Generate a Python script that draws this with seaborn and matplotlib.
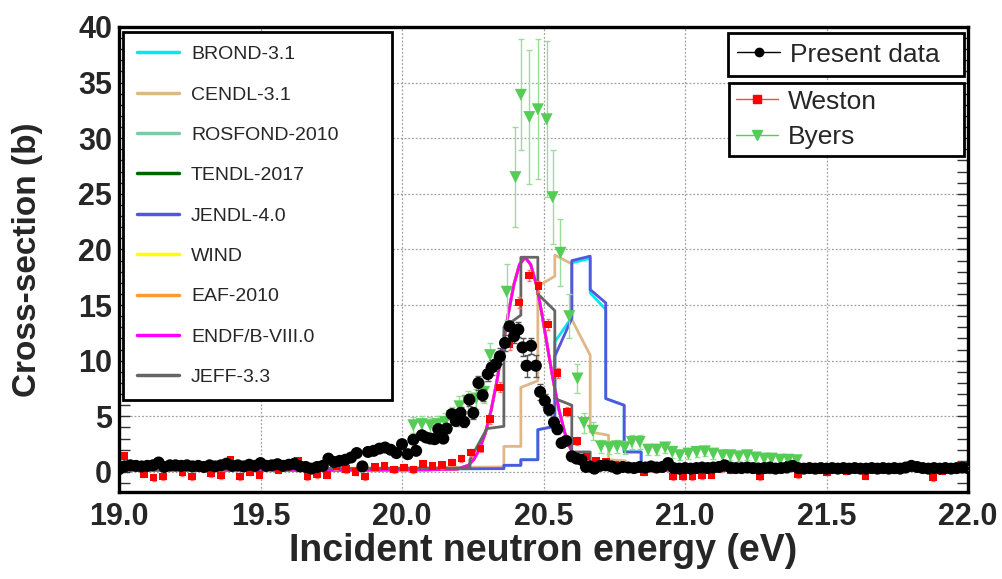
import numpy as np
import matplotlib
matplotlib.use("Agg")
import matplotlib.pyplot as plt
import seaborn as sns
from matplotlib.lines import Line2D
from matplotlib.ticker import MultipleLocator

# ---------------- evaluated libraries ----------------
smooth_E = [19.00, 19.80, 20.10, 20.195, 20.235, 20.255, 20.275, 20.295, 20.315, 20.335,
            20.355, 20.375, 20.395, 20.415, 20.435, 20.455, 20.475, 20.495, 20.515, 20.535,
            20.555, 20.575, 20.595, 20.615, 20.635, 20.675, 20.80, 22.00]
smooth_y = [0.15, 0.15, 0.2, 0.25, 0.61, 1.17, 2.11, 3.54, 5.55, 8.13,
            11.09, 14.13, 16.81, 18.64, 19.3, 18.64, 16.81, 14.13, 11.09, 8.13,
            5.55, 3.54, 2.11, 1.17, 0.61, 0.25, 0.18, 0.15]

jeff_E = [19.00, 20.24, 20.24, 20.30, 20.36, 20.36, 20.42, 20.42, 20.48, 20.48,
          20.54, 20.54, 20.60, 20.60, 20.665, 20.665, 22.00]
jeff_y = [0.2, 0.35, 1.1, 3.9, 4.1, 13.0, 14.1, 19.3, 19.3, 16.0,
          14.5, 6.6, 6.0, 1.8, 1.8, 0.3, 0.2]

cendl_E = [19.00, 20.36, 20.36, 20.42, 20.42, 20.48, 20.48, 20.54, 20.54, 20.60,
           20.60, 20.665, 20.665, 20.73, 20.73, 20.79, 20.79, 22.00]
cendl_y = [0.2, 0.45, 2.3, 2.3, 7.6, 8.2, 16.7, 17.6, 19.5, 18.7,
           13.7, 10.5, 3.6, 3.3, 1.1, 1.0, 0.3, 0.2]

jendl_E = [19.00, 20.36, 20.36, 20.42, 20.42, 20.48, 20.48, 20.54, 20.54, 20.60,
           20.60, 20.665, 20.665, 20.72, 20.72, 20.785, 20.785, 20.845, 20.845, 20.95, 22.00]
jendl_y = [0.2, 0.3, 0.6, 0.6, 1.1, 1.1, 3.8, 4.1, 10.4, 13.8,
           19.0, 19.4, 16.4, 15.2, 6.6, 6.0, 1.8, 1.8, 0.6, 0.3, 0.2]
brond_y = [0.2, 0.3, 0.6, 0.6, 1.1, 1.1, 3.8, 4.1, 11.7, 13.9,
           18.8, 19.2, 16.1, 14.6, 6.6, 6.0, 1.8, 1.8, 0.6, 0.3, 0.2]

lib_names = ["BROND-3.1", "CENDL-3.1", "ROSFOND-2010", "TENDL-2017", "JENDL-4.0",
             "WIND", "EAF-2010", "ENDF/B-VIII.0", "JEFF-3.3"]
lib_colors = ["#00e8f0", "#deb887", "#7fc9a6", "#006400", "#5555dd",
              "#ffff00", "#ff9933", "#ff00ff", "#666666"]
lib_E = [jendl_E, cendl_E, smooth_E, smooth_E, jendl_E, smooth_E, smooth_E, smooth_E, jeff_E]
lib_y = [brond_y, cendl_y, smooth_y, smooth_y, jendl_y, smooth_y, smooth_y, smooth_y, jeff_y]

# ---------------- present data ----------------
pres_left_E = np.round(np.arange(19.00, 19.7201, 0.02), 3)
pres_left_y = [0.25, 0.5, 0.6, 0.55, 0.5, 0.55, 0.6, 0.85, 0.45, 0.6,
               0.6, 0.55, 0.6, 0.5, 0.55, 0.45, 0.6, 0.5, 0.6, 0.75,
               0.55, 0.6, 0.5, 0.65, 0.55, 0.8, 0.55, 0.6, 0.7, 0.55,
               0.65, 0.75, 0.5, 0.45, 0.3, 0.45, 0.55]
pres_mid_E = [19.74, 19.76, 19.78, 19.80, 19.82, 19.84, 19.86, 19.88, 19.90, 19.92,
              19.94, 19.96, 19.98, 20.00, 20.02, 20.04, 20.05, 20.07, 20.085, 20.10,
              20.115, 20.128, 20.146, 20.158, 20.176, 20.19, 20.207, 20.22, 20.238, 20.252,
              20.27, 20.285, 20.303, 20.317, 20.332, 20.346, 20.364, 20.38, 20.396, 20.411,
              20.426, 20.44, 20.456, 20.473, 20.488, 20.505, 20.52, 20.537, 20.549, 20.564,
              20.58, 20.60, 20.617, 20.634, 20.65, 20.665]
pres_mid_y = [1.2, 0.9, 1.0, 1.1, 1.3, 1.7, 0.5, 1.8, 1.9, 2.1,
              2.2, 2.0, 1.7, 2.5, 1.6, 2.9, 1.9, 3.3, 3.1, 3.0,
              2.95, 3.85, 3.0, 3.9, 5.2, 4.6, 5.3, 4.5, 6.5, 5.3,
              8.0, 6.9, 8.8, 9.4, 9.7, 10.4, 11.6, 13.1, 12.2, 12.8,
              11.2, 9.55, 11.35, 9.55, 7.2, 6.4, 5.6, 4.45, 3.85, 2.6,
              2.8, 1.4, 1.2, 1.1, 0.45, 0.5]
pres_mid_err = [0.2, 0.2, 0.2, 0.2, 0.2, 0.2, 0.2, 0.2, 0.2, 0.25,
                0.25, 0.25, 0.25, 0.3, 0.3, 0.3, 0.3, 0.35, 0.35, 0.35,
                0.35, 0.4, 0.35, 0.4, 0.45, 0.45, 0.5, 0.45, 0.55, 0.5,
                0.6, 0.55, 0.6, 0.65, 0.65, 0.7, 0.7, 0.4, 0.6, 0.7,
                0.8, 1.0, 0.7, 1.0, 0.7, 0.6, 0.5, 0.45, 0.4, 0.35,
                0.35, 0.3, 0.3, 0.3, 0.25, 0.25]
pres_right_E = np.round(np.arange(20.68, 22.0001, 0.02), 3)
pres_right_y = [0.3, 0.55, 0.6, 0.5, 0.3, 0.45, 0.4, 0.35, 0.45, 0.4,
                0.5, 0.4, 0.45, 0.8, 0.35, 0.3, 0.35, 0.3, 0.35, 0.4,
                0.35, 0.4, 0.45, 0.6, 0.4, 0.35, 0.35, 0.4, 0.35, 0.3,
                0.35, 0.4, 0.3, 0.35, 0.4, 0.55, 0.35, 0.3, 0.35, 0.3,
                0.35, 0.3, 0.35, 0.3, 0.35, 0.3, 0.35, 0.3, 0.3, 0.35,
                0.3, 0.35, 0.3, 0.35, 0.3, 0.4, 0.55, 0.45, 0.35, 0.3,
                0.35, 0.3, 0.35, 0.3, 0.35, 0.4, 0.35]

# ---------------- Weston ----------------
weston_E = np.round(19.02 + 0.034 * np.arange(88), 3)
weston_y = [1.44, 0.45, -0.18, -0.48, -0.42, 0.45, -0.06, -0.42, 0.35, -0.15,
            -0.33, 1.08, -0.42, 0.0, -0.27, 0.4, 0.2, 0.5, 1.0, -0.42,
            -0.2, -0.27, 0.5, 0.25, 0.0, -0.42, 0.45, 0.54, 0.24, 0.4,
            0.24, 0.72, 0.54, 0.6, 0.85, 1.2, 1.75, 2.1, 4.75, 7.6,
            11.5, 15.25, 17.65, 16.7, 13.25, 8.9, 5.4, 2.8, 1.4, 1.0,
            0.9, 0.6, 0.5, 0.4, 0.0, 0.3, 0.5, -0.42, -0.42, -0.4,
            -0.3, -0.25, 0.3, 0.2, 0.4, 0.3, -0.4, 0.2, 0.4, 0.6,
            -0.2, 0.3, 0.2, 0.0, 0.4, 0.1, 0.3, -0.35, 0.3, 0.4,
            0.2, 0.3, 0.4, 0.3, -0.5, 0.1, 0.3, 0.6]
weston_err = [0.3] * 38 + [0.4, 0.45, 0.5, 0.5, 0.5, 0.5, 0.5, 0.45, 0.4, 0.35] + [0.3] * 40

# ---------------- Byers ----------------
byers_E = [20.040, 20.070, 20.100, 20.126, 20.152, 20.176, 20.203, 20.232, 20.262, 20.290,
           20.311, 20.370, 20.401, 20.420, 20.450, 20.480, 20.511, 20.532, 20.560, 20.591,
           20.620, 20.643, 20.674, 20.703, 20.733, 20.760, 20.787, 20.812, 20.840, 20.870,
           20.900, 20.930, 20.955, 20.982, 21.012, 21.041, 21.070, 21.100, 21.133, 21.160,
           21.190, 21.220, 21.250, 21.280, 21.306, 21.336, 21.365, 21.395]
byers_y = [4.2, 4.3, 4.2, 4.3, 4.5, 5.0, 5.9, 6.4, 6.6, 7.2,
           10.5, 16.2, 26.5, 33.9, 31.9, 32.6, 31.7, 24.7, 19.7, 14.0,
           8.4, 4.4, 3.7, 2.3, 2.2, 2.3, 2.2, 2.7, 2.7, 2.0,
           2.0, 2.2, 1.8, 1.5, 1.65, 1.8, 1.85, 1.65, 1.5, 1.5,
           1.4, 1.5, 1.3, 1.2, 1.2, 1.1, 1.1, 1.05]
byers_err = [0.7, 0.7, 0.7, 0.7, 0.8, 0.8, 0.9, 0.9, 0.9, 1.0,
             1.1, 2.5, 4.5, 5.0, 6.0, 6.3, 7.0, 4.2, 3.0, 2.0,
             1.3, 0.9, 0.8, 0.6, 0.6, 0.6, 0.6, 0.6, 0.6, 0.5,
             0.5, 0.5, 0.5, 0.45, 0.45, 0.45, 0.45, 0.45, 0.45, 0.4,
             0.4, 0.4, 0.4, 0.4, 0.4, 0.4, 0.4, 0.4]

x_ticks = [19.0, 19.5, 20.0, 20.5, 21.0, 21.5, 22.0]
y_ticks = [0, 5, 10, 15, 20, 25, 30, 35, 40]

# ---------------- figure ----------------
sns.set_theme(style="white")
plt.rcParams["font.family"] = ["Liberation Sans", "DejaVu Sans"]

W, H = 1003, 579
fig = plt.figure(figsize=(W / 100, H / 100), dpi=100)
L, R, T, B = 119, 968, 27, 492
ax = fig.add_axes([L / W, 1 - B / H, (R - L) / W, (B - T) / H])

for name, E, y, c in zip(lib_names, lib_E, lib_y, lib_colors):
    sns.lineplot(x=E, y=y, ax=ax, color=c, lw=2, estimator=None, sort=False,
                 legend=False, zorder=2)

# Byers
ax.errorbar(byers_E, byers_y, yerr=byers_err, fmt="none", ecolor="#99dd99",
            elinewidth=1, capsize=2, zorder=3)
sns.scatterplot(x=byers_E, y=byers_y, ax=ax, marker="v", color="#55cc55", s=75,
                edgecolor="none", zorder=4, legend=False)
# Weston
ax.errorbar(weston_E, weston_y, yerr=weston_err, fmt="none", ecolor="#ff7070",
            elinewidth=1, capsize=1.5, zorder=5)
sns.scatterplot(x=weston_E, y=weston_y, ax=ax, marker="s", color="#ff0000", s=30,
                edgecolor="none", zorder=6, legend=False)
# Present data
pres_E = list(pres_left_E) + pres_mid_E + list(pres_right_E)
pres_y = pres_left_y + pres_mid_y + pres_right_y
pres_err = [0.15] * len(pres_left_y) + pres_mid_err + [0.15] * len(pres_right_y)
ax.errorbar(pres_E, pres_y, yerr=pres_err, fmt="none", ecolor="#555555",
            elinewidth=1, capsize=2, zorder=7)
sns.scatterplot(x=pres_E, y=pres_y, ax=ax, marker="o", color="black", s=75,
                edgecolor="none", zorder=8, legend=False)

ax.set_xlim(19.0, 22.0)
ax.set_ylim(-1.8, 40)
ax.set_xticks(x_ticks)
ax.set_xticklabels([f"{v:.1f}" for v in x_ticks])
ax.set_yticks(y_ticks)
ax.yaxis.set_minor_locator(MultipleLocator(1))
ax.grid(True, which="major", color="#a0a0a0", linestyle=(0, (1.5, 1.5)), lw=0.9)
ax.set_axisbelow(True)
for s in ax.spines.values():
    s.set_linewidth(2.4)
    s.set_color("black")
ax.tick_params(axis="y", which="both", direction="in", left=True, right=True,
               width=1, color="#333333")
ax.tick_params(axis="y", which="major", length=8, pad=5)
ax.tick_params(axis="y", which="minor", length=8)
ax.tick_params(axis="x", which="major", direction="in", bottom=True, top=False,
               length=0, pad=7)
for lab in ax.get_xticklabels() + ax.get_yticklabels():
    lab.set_fontsize(22)
    lab.set_fontweight("bold")

ax.set_xlabel("Incident neutron energy (eV)", fontsize=27, fontweight="bold")
ax.set_ylabel("Cross-section (b)", fontsize=24, fontweight="bold")
ax.xaxis.set_label_coords(0.5, (B - 533) / (B - T))
ax.yaxis.set_label_coords((43 - L) / (R - L), 0.5)

# legends
lib_handles = [Line2D([], [], color=c, lw=2.5) for c in lib_colors]
fs1 = 14
leg1 = fig.legend(lib_handles, lib_names, loc="upper left",
                  bbox_to_anchor=(123 / W, 1 - 402 / H, (392 - 123) / W, (402 - 32) / H),
                  mode="expand", borderaxespad=0, fontsize=fs1, frameon=True,
                  fancybox=False, framealpha=1, edgecolor="black", borderpad=0.7,
                  labelspacing=1.17, handlelength=2.2, handletextpad=0.6)
leg1.get_frame().set_linewidth(2)

fs2 = 19
h_pres = [Line2D([], [], color="black", lw=1, marker="o", ms=6)]
leg2 = fig.legend(h_pres, ["Present data"], loc="upper left",
                  bbox_to_anchor=(728 / W, 1 - 77 / H, (964 - 728) / W, (77 - 33) / H),
                  mode="expand", borderaxespad=0, fontsize=fs2, frameon=True,
                  fancybox=False, framealpha=1, edgecolor="black", borderpad=0.36,
                  handlelength=1.6, handletextpad=0.4)
leg2.get_frame().set_linewidth(2)

h_oth = [Line2D([], [], color="#ff4444", lw=1, marker="s", ms=6, mfc="#ff0000", mec="#ff0000"),
         Line2D([], [], color="#55cc55", lw=1, marker="v", ms=7, mfc="#55cc55", mec="#55cc55")]
leg3 = fig.legend(h_oth, ["Weston", "Byers"], loc="upper left",
                  bbox_to_anchor=(729 / W, 1 - 155 / H, (964 - 729) / W, (155 - 83) / H),
                  mode="expand", borderaxespad=0, fontsize=fs2, frameon=True,
                  fancybox=False, framealpha=1, edgecolor="black", borderpad=0.25,
                  labelspacing=0.45, handlelength=1.6, handletextpad=0.4)
leg3.get_frame().set_linewidth(2)

fig.savefig("out.png", dpi=100)
